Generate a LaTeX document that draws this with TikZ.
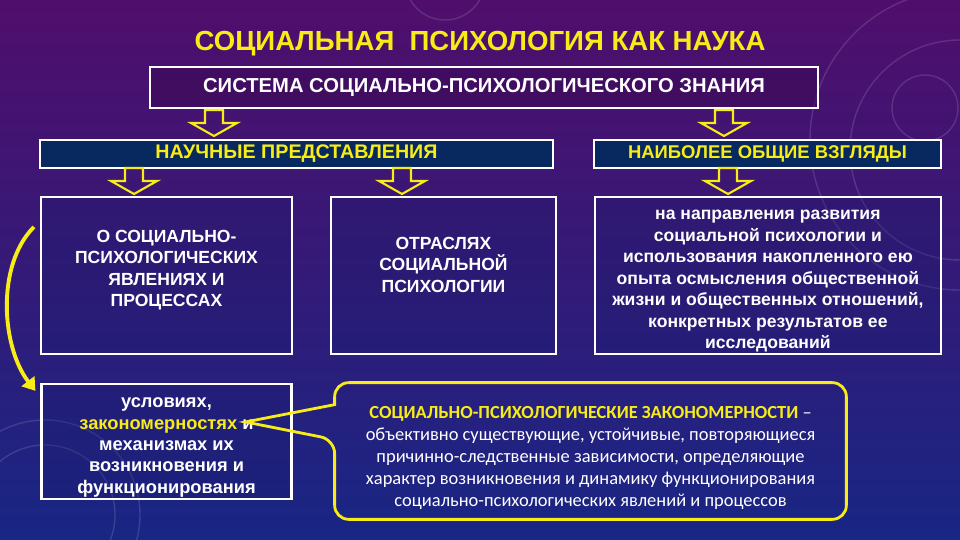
\documentclass[tikz,border=0pt]{standalone}
\usepackage{fontspec}
\setmainfont{Liberation Sans}
\newfontfamily\calibri{Carlito}
\usepackage{tikz}
\usetikzlibrary{positioning,arrows.meta}
\definecolor{gold}{RGB}{248,236,22}
\definecolor{bgtop}{RGB}{80,14,108}
\definecolor{bgmid}{RGB}{52,24,116}
\definecolor{bgbot}{RGB}{24,38,132}
\definecolor{navy}{RGB}{8,40,96}
\definecolor{plum}{RGB}{60,10,88}
\definecolor{ink}{RGB}{24,28,110}
\newlength\pxu
\setlength\pxu{0.02cm}
\newcommand{\lift}[1]{\rule[-#1]{0pt}{0pt}}
\newcommand{\drop}[1]{\rule{0pt}{#1}}
\tikzstyle{frame}=[draw=white, line width=1.2pt, fill=ink, fill opacity=0.3, text opacity=1, text=white, align=center, inner sep=0pt, font=\bfseries\fontsize{10pt}{12.2pt}\selectfont]
\tikzstyle{headbox}=[frame, fill=navy, fill opacity=1, text=gold, minimum height=28\pxu, font=\bfseries\fontsize{10.5pt}{12pt}\selectfont]
\tikzstyle{hollow}=[draw=gold, line width=1.2pt, line join=miter]
\tikzstyle{bendarrow}=[draw=gold, line width=2.2pt, -{Triangle[length=7pt,width=9pt]}]
\tikzstyle{ring}=[draw=white, opacity=0.13, line width=0.8pt]
\tikzset{downarrow/.pic={\draw[hollow] (-9,0) -- (9,0) -- (9,13) -- (23,13) -- (0,26) -- (-23,13) -- (-9,13) -- cycle;}}

\begin{document}
\begin{tikzpicture}[x=0.02cm, y=-0.02cm, on grid]
	\useasboundingbox (0,0) rectangle (960,540);
	\shade[top color=bgtop, middle color=bgmid, bottom color=bgbot] (0,0) rectangle (960,540);
	\draw[ring] (925,108) circle (33);
	\draw[ring] (960,140) circle (150);
	\draw[ring] (960,150) circle (110);
	\draw[ring] (45,515) circle (70);
	\draw[ring] (45,515) circle (95);
	\draw[ring] (445,-20) circle (40);

	\node[text=gold, font=\bfseries\fontsize{15.7pt}{18pt}\selectfont] (title) at (480,44) {СОЦИАЛЬНАЯ\ \ ПСИХОЛОГИЯ КАК НАУКА};
	\node[frame, fill=plum, fill opacity=0.6, line width=1.6pt, minimum width=668\pxu, minimum height=41\pxu, font=\bfseries\fontsize{11.5pt}{13pt}\selectfont] (sys) at (484,87.5) {СИСТЕМА СОЦИАЛЬНО-ПСИХОЛОГИЧЕСКОГО ЗНАНИЯ};
	\node[headbox, minimum width=513\pxu, font=\bfseries\fontsize{11.2pt}{12pt}\selectfont] (sci) at (296.5,154) {НАУЧНЫЕ ПРЕДСТАВЛЕНИЯ};
	\node[headbox, minimum width=347\pxu] (gen) at (767.5,154) {НАИБОЛЕЕ ОБЩИЕ ВЗГЛЯДЫ};
	\node[frame, minimum width=251\pxu, minimum height=157\pxu] (phen) at (166.5,275.5) {О СОЦИАЛЬНО-\\ПСИХОЛОГИЧЕСКИХ\\ЯВЛЕНИЯХ И\\ПРОЦЕССАХ\lift{8pt}};
	\node[frame, minimum width=225\pxu, minimum height=157\pxu, right=5.54cm of phen] (branch) {ОТРАСЛЯХ\\СОЦИАЛЬНОЙ\\ПСИХОЛОГИИ\lift{12.5pt}};
	\node[frame, minimum width=346\pxu, minimum height=157\pxu, right=6.49cm of branch] (dir) {\drop{12pt}на направления развития\\социальной психологии и\\использования накопленного ею\\опыта осмысления общественной\\жизни и общественных отношений,\\конкретных результатов ее\\исследований};
	\node[frame, minimum width=250\pxu, minimum height=115\pxu, below=3.32cm of phen, font=\bfseries\fontsize{10.4pt}{12.2pt}\selectfont] (cond) {\drop{12.5pt}условиях,\\\textcolor{gold}{закономерностях} и\\механизмах их\\возникновения и\\функционирования};
	\node[minimum width=511\pxu, minimum height=136\pxu, align=center, text=white, font=\calibri\fontsize{10.5pt}{12.5pt}\selectfont] (law) at (590.5,451) {\drop{15pt}{\bfseries\color{gold}СОЦИАЛЬНО-ПСИХОЛОГИЧЕСКИЕ ЗАКОНОМЕРНОСТИ} –\\объективно существующие, устойчивые, повторяющиеся\\причинно-следственные зависимости, определяющие\\характер возникновения и динамику функционирования\\социально-психологических явлений и процессов};

	\pic at (214,110) {downarrow};
	\pic at (724,110) {downarrow};
	\pic at (134,168) {downarrow};
	\pic at (402,168) {downarrow};
	\pic at (728,168) {downarrow};

	\draw[bendarrow] ([xshift=-6\pxu,yshift=-31\pxu]phen.north west) .. controls +(-38,38) and +(-34,-44) .. ([xshift=-5\pxu,yshift=-8\pxu]cond.north west);
	\coordinate (tip) at ([xshift=-47\pxu,yshift=19.5\pxu]cond.east);
	\draw[gold, line width=1.6pt, rounded corners=14\pxu] ([yshift=-22\pxu]law.north west) -- (law.north west) -- (law.north east) -- (law.south east) -- (law.south west) -- ([yshift=-57\pxu]law.north west) [sharp corners] -- (tip) -- cycle;
\end{tikzpicture}
\end{document}
